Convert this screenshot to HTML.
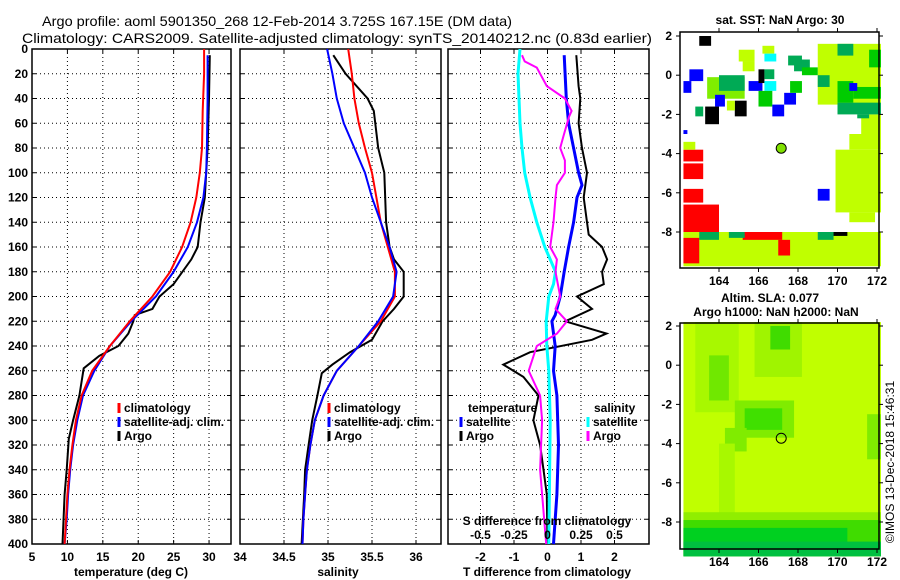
<!DOCTYPE html>
<html><head><meta charset="utf-8">
<style>
html,body{margin:0;padding:0;background:#fff;}
svg{display:block;font-family:"Liberation Sans",sans-serif;}
</style></head>
<body>
<svg id="chart" width="900" height="580" viewBox="0 0 900 580" xmlns="http://www.w3.org/2000/svg">
<text x="42" y="26" font-size="14" textLength="470" lengthAdjust="spacingAndGlyphs">Argo profile: aoml 5901350_268 12-Feb-2014 3.725S 167.15E (DM data)</text>
<text x="22" y="43" font-size="14" textLength="630" lengthAdjust="spacingAndGlyphs">Climatology: CARS2009. Satellite-adjusted climatology: synTS_20140212.nc (0.83d earlier)</text>
<g id="plots"></g>
<text transform="translate(894,462) rotate(-90)" text-anchor="middle" font-size="12">©IMOS 13-Dec-2018 15:46:31</text>
</svg>
<script>
// ---- data ----
const tempClimDepth=[0,20,50,80,100,120,140,160,180,200,220,240,260,280,300,320,340,360,380,400];
const tempClim=[29.3,29.3,29.1,29.0,28.7,28.2,27.4,26.2,24.5,22.0,18.8,16.0,13.5,12.0,11.2,10.7,10.3,10.0,9.8,9.6];
const tempSatDepth=[5,40,80,100,120,140,160,180,200,220,240,260,280,300,320,340,360,380,400];
const tempSat=[29.8,29.8,29.7,29.6,29.2,28.3,27.0,25.0,22.5,19.0,16.0,13.8,12.2,11.4,10.8,10.4,10.1,9.9,9.6];
const tempArgoDepth=[5,40,80,120,140,160,170,190,200,210,215,220,230,240,248,258,280,300,315,340,360,400];
const tempArgo=[30.1,30.0,29.8,29.4,28.8,28.4,27.5,25.0,23.0,22.0,19.5,19.3,18.6,17.2,14.5,12.3,11.7,10.8,10.2,9.9,9.6,9.3];

const salDepth=[0,20,40,60,80,100,120,140,160,180,200,220,240,260,280,300,320,340,360,380,400];
const salClim=[35.23,35.27,35.30,35.35,35.42,35.50,35.55,35.60,35.68,35.76,35.76,35.60,35.35,35.10,34.95,34.85,34.80,34.76,34.74,34.72,34.71];
const salSat=[34.99,35.05,35.10,35.18,35.30,35.42,35.50,35.60,35.70,35.78,35.74,35.57,35.35,35.10,34.95,34.85,34.80,34.76,34.74,34.72,34.71];
const salArgoDepth=[5,20,40,50,80,100,140,160,170,180,200,210,220,235,245,255,262,280,300,320,340,360,400];
const salArgo=[35.06,35.20,35.45,35.52,35.57,35.64,35.66,35.70,35.75,35.86,35.86,35.75,35.62,35.50,35.25,35.05,34.93,34.88,34.82,34.78,34.74,34.73,34.70];

const dTSatDepth=[5,40,60,80,100,110,120,140,160,180,200,215,220,240,260,280,320,360,400];
const dTSat=[0.5,0.56,0.63,0.78,0.93,1.03,0.88,0.78,0.63,0.5,0.38,0.23,0.13,0.23,0.18,0.28,0.33,0.28,0.18];
const dTArgoDepth=[5,30,40,60,80,100,120,140,150,160,170,180,190,200,210,220,230,235,245,255,265,280,300,320,340,360,400];
const dTArgo=[0.86,0.93,0.98,0.93,1.03,1.18,1.08,1.18,1.23,1.63,1.78,1.63,1.68,0.88,1.33,0.53,1.76,1.33,-0.52,-1.32,-0.72,-0.27,-0.42,-0.22,-0.12,-0.02,0];
const dSSatDepth=[0,20,60,80,100,120,140,160,170,180,190,200,220,240,260,300,400];
const dSSat=[-0.205,-0.22,-0.205,-0.19,-0.17,-0.13,-0.08,-0.02,0.02,0.06,0.045,0.01,-0.01,-0.005,0.01,0.02,0.01];
const dSArgoDepth=[5,10,15,30,40,50,55,70,80,90,100,110,120,140,160,170,180,200,210,220,230,240,260,280,300,340,400];
const dSArgo=[-0.19,-0.17,-0.08,-0.005,0.13,0.18,0.16,0.12,0.095,0.13,0.13,0.07,0.06,0.045,0.02,0.07,0.06,0.095,0.06,0.145,0.07,-0.08,-0.14,-0.055,-0.04,-0.055,-0.01];

const depthTicks=[0,20,40,60,80,100,120,140,160,180,200,220,240,260,280,300,320,340,360,380,400];
const tempTicks=[5,10,15,20,25,30];
const salTicks=[34,34.5,35,35.5,36];
const dTTicks=[-2,-1,0,1,2];
const dSTicks=[-0.5,-0.25,0,0.25,0.5];
const dSTickLabels=["-0.5","-0.25","0","0.25","0.5"];
const lonTicks=[164,166,168,170,172];
const latTicks=[2,0,-2,-4,-6,-8];
const argoLon=167.15, argoLat=-3.725;

// ---- helpers ----
const NS="http://www.w3.org/2000/svg";
const root=document.getElementById('plots');
function mk(tag,attrs,parent){const e=document.createElementNS(NS,tag);for(const k in attrs)e.setAttribute(k,attrs[k]);(parent||root).appendChild(e);return e;}
const TOP=49, BOT=544;
const yD=d=>TOP+(BOT-TOP)*d/400;

function panel(name,x0,x1,xmin,xmax){
  const g=mk('g',{});
  
  
  const sx=v=>x0+(v-xmin)/(xmax-xmin)*(x1-x0);
  return {g,sx,x0,x1};
}
function frame(p,xt){
  depthTicks.forEach(d=>{
    if(d>0&&d<400){const l=mk('line',{x1:p.x0,x2:p.x1,y1:yD(d),y2:yD(d),stroke:'#000','stroke-width':1,'stroke-dasharray':'1,3'},p.g);
    
    }
    mk('line',{x1:p.x0,x2:p.x0+4,y1:yD(d),y2:yD(d),stroke:'#000'},p.g);
    mk('line',{x1:p.x1,x2:p.x1-4,y1:yD(d),y2:yD(d),stroke:'#000'},p.g);
  });
  xt.forEach(v=>{const x=p.sx(v);if(x>p.x0+1&&x<p.x1-1){
    const l=mk('line',{x1:x,x2:x,y1:TOP,y2:BOT,stroke:'#000','stroke-dasharray':'1,3'},p.g);
    
    }
    if(x>=p.x0-1&&x<=p.x1+1){mk('line',{x1:x,x2:x,y1:BOT,y2:BOT-4,stroke:'#000'},p.g);mk('line',{x1:x,x2:x,y1:TOP,y2:TOP+4,stroke:'#000'},p.g);}
  });
  const r=mk('rect',{x:p.x0,y:TOP,width:p.x1-p.x0,height:BOT-TOP,fill:'none',stroke:'#000','stroke-width':1.5},p.g);
  
  
}
function line(p,name,xs,ds,color,w,xf){
  const pts=xs.map((v,i)=>((xf||p.sx)(v)).toFixed(1)+','+yD(ds[i]).toFixed(1)).join(' ');
  const l=mk('polyline',{points:pts,fill:'none',stroke:color,'stroke-width':w},p.g);
  
  
}
function txt(p,s,x,y,opts){const t=mk('text',Object.assign({x:x,y:y,'font-size':12,'font-weight':'bold'},opts||{}),p.g);t.textContent=s;return t;}
function legend(p,x,y,items){
  items.forEach((it,i)=>{
    const yy=y+i*14;
    mk('line',{x1:x,x2:x,y1:yy-9,y2:yy+1,stroke:it[1],'stroke-width':3},p.g);
    const t=txt(p,it[0],x+5,yy);
    
    
  });
}

// ---- panel 1: temperature ----
const p1=panel('temperature-panel',32,231,5,33.1);
frame(p1,tempTicks);
depthTicks.forEach(d=>{const t=txt(p1,String(d),28,yD(d)+4,{'text-anchor':'end'});
  
  });
tempTicks.forEach(v=>{const t=txt(p1,String(v),p1.sx(v),561,{'text-anchor':'middle'});
  
  });
line(p1,'temp-argo-line',tempArgo,tempArgoDepth,'#000',2);
line(p1,'temp-satellite-line',tempSat,tempSatDepth,'#0000ff',2);
line(p1,'temp-climatology-line',tempClim,tempClimDepth,'#ff0000',2);
legend(p1,119,412,[['climatology','#ff0000'],['satellite-adj. clim.','#0000ff'],['Argo','#000']]);
{const t=txt(p1,'temperature (deg C)',131,576,{'text-anchor':'middle'});}

// ---- panel 2: salinity ----
const p2=panel('salinity-panel',240,441,34,36.284);
frame(p2,salTicks);
salTicks.forEach(v=>{const t=txt(p2,String(v),p2.sx(v),561,{'text-anchor':'middle'});
  
  });
line(p2,'sal-argo-line',salArgo,salArgoDepth,'#000',2);
line(p2,'sal-climatology-line',salClim,salDepth,'#ff0000',2);
line(p2,'sal-satellite-line',salSat,salDepth,'#0000ff',2);
legend(p2,329,412,[['climatology','#ff0000'],['satellite-adj. clim.','#0000ff'],['Argo','#000']]);
{const t=txt(p2,'salinity',338,576,{'text-anchor':'middle'});}

// ---- panel 3: differences ----
const p3=panel('difference-panel',448,649,-2.97,3.03);
frame(p3,dTTicks);
const sS=v=>p3.sx(v*4);
line(p3,'dT-argo-line',dTArgo,dTArgoDepth,'#000',2);
line(p3,'dT-satellite-line',dTSat,dTSatDepth,'#0000ff',3);
line(p3,'dS-satellite-line',dSSat,dSSatDepth,'#00ffff',3,sS);
line(p3,'dS-argo-line',dSArgo,dSArgoDepth,'#ff00ff',2,sS);
dTTicks.forEach(v=>{const t=txt(p3,String(v),p3.sx(v),561,{'text-anchor':'middle'});
  
  });
dSTicks.forEach((v,i)=>{const t=txt(p3,dSTickLabels[i],sS(v),539,{'text-anchor':'middle'});
  
  });
{const t=txt(p3,'S difference from climatology',547,525,{'text-anchor':'middle'});}
{const t=txt(p3,'T difference from climatology',547,576,{'text-anchor':'middle'});}
txt(p3,'temperature',468,412);
legend(p3,461,426,[['satellite','#0000ff'],['Argo','#000']]);
txt(p3,'salinity',594,412);
legend(p3,588,426,[['satellite','#00ffff'],['Argo','#ff00ff']]);

// ---- maps ----
function mapFrame(name,top,bot,lat2y,latm8y){
  const g=mk('g',{});
  
  
  const L=680,R=879;
  const X=lon=>719+(lon-164)*19.75;
  const Y=lat=>lat2y+(2-lat)*(latm8y-lat2y)/10;
  return {g,X,Y,L,R,top,bot};
}
function mapAxes(m){
  mk('rect',{x:m.L,y:m.top,width:m.R-m.L,height:m.bot-m.top,fill:'none',stroke:'#000','stroke-width':1.5},m.g);
  lonTicks.forEach(v=>{const x=m.X(v);mk('line',{x1:x,x2:x,y1:m.bot,y2:m.bot+4,stroke:'#000'},m.g);mk('line',{x1:x,x2:x,y1:m.top,y2:m.top-4,stroke:'#000'},m.g);
    const t=mk('text',{x:x,y:m.bot+17,'text-anchor':'middle','font-size':12,'font-weight':'bold'},m.g);t.textContent=v;
    
    });
  latTicks.forEach(v=>{const y=m.Y(v);mk('line',{x1:m.L,x2:m.L-4,y1:y,y2:y,stroke:'#000'},m.g);mk('line',{x1:m.R,x2:m.R+4,y1:y,y2:y,stroke:'#000'},m.g);
    const t=mk('text',{x:m.L-8,y:y+4,'text-anchor':'end','font-size':12,'font-weight':'bold'},m.g);t.textContent=v;
    
    });
  const c=mk('circle',{cx:m.X(argoLon),cy:m.Y(argoLat),r:5,fill:m.dotFill||'none',stroke:'#000','stroke-width':1},m.g);
  
  
}
function box(m,lo0,la0,lo1,la1,col){
  mk('rect',{x:m.X(lo0),y:m.Y(la0),width:m.X(lo1)-m.X(lo0),height:m.Y(la1)-m.Y(la0),fill:col},m.g);
}
// SST map
const m1=mapFrame('sst-map',32,268,36,232);
const LG='#c0ff00',G1='#00cc00',G2='#00aa55',G3='#80ee00';
const sstBlocks=[
 [162.2,-8,172.2,-9.75,LG],[162.2,-8.3,163,-9.6,'#ff0000'],[165.2,-8,167.2,-8.4,'#ff0000'],[167,-8.4,167.6,-9.2,'#ff0000'],
 [163,-8,164,-8.4,G2],[164.5,-8,165.3,-8.3,G2],[169,-8,169.8,-8.4,G2],[169.8,-8,170.5,-8.2,'#000'],
 [162.2,-3.8,163.2,-4.4,'#ff0000'],[162.2,-4.5,163.2,-5.3,'#ff0000'],[162.2,-5.8,163.2,-6.5,'#ff0000'],[162.2,-6.6,164,-8,'#ff0000'],
 [162.2,-3.4,162.8,-3.8,LG],[162.2,-2.8,162.4,-3.0,'#0000ff'],
 [171.2,-2,172.2,-3,LG],[170.6,-3,172.2,-3.8,LG],[169.9,-3.8,172.2,-7,LG],[170.6,-7,171.9,-7.5,LG],
 [169,-5.8,169.6,-6.4,'#0000ff'],
 [169,1.6,172.2,-1.5,LG],[170,1.6,170.8,1.0,G2],[171.6,1.3,172.2,0.4,G1],[169,0,169.6,-0.6,G2],[170.0,-0.3,170.8,-1.4,G1],[170.8,-0.6,172.2,-1.2,G1],
 [170,-1.4,172.2,-2.0,G2],[171,-2,171.6,-2.2,G2],[167.8,0.8,168.6,0.2,G2],[168.2,0.4,169,0,G1],[170.6,-0.4,171,-0.8,'#0000ff'],
 [165,1.3,165.8,0.7,LG],[165.2,0.7,165.8,0.2,LG],[166.2,1.5,166.8,1.1,LG],[166.3,1.1,166.9,0.7,'#00ffff'],[167.5,1.0,168.2,0.5,G2],
 [163,2,163.6,1.5,'#000'],[162.5,0.3,163.2,-0.3,'#0000ff'],[162.2,-0.3,162.6,-0.9,'#0000ff'],
 [163.4,-0.1,165.3,-1.2,G3],[164.0,0.0,165.3,-0.8,G2],[163.8,-1,164.3,-1.6,'#0000ff'],[163.3,-1.6,164,-2.5,'#000'],[162.8,-1.6,163.2,-2.1,G2],
 [165.5,-0.3,166.2,-0.8,'#0000ff'],[166,0.3,166.3,-0.4,'#000'],[166.3,-0.3,166.9,-0.8,'#00ffff'],[166.3,0.3,166.8,-0.2,G2],
 [166,-0.8,166.7,-1.6,G1],[166.7,-1.5,167.3,-2.1,'#0000ff'],[167.3,-0.9,167.9,-1.5,'#0000ff'],[167.6,-0.3,168.2,-0.9,G1],
 [164.8,-1.3,165.4,-2.1,'#000'],[164.4,-1.3,164.8,-1.8,LG]
];
sstBlocks.forEach(b=>box(m1,b[0],b[1],b[2],b[3],b[4]));
m1.dotFill='#80e000';
mapAxes(m1);
{const t=mk('text',{x:780,y:24,'text-anchor':'middle','font-size':12,'font-weight':'bold'},m1.g);t.textContent='sat. SST: NaN Argo: 30';}
// SLA map
const m2=mapFrame('sla-map',323,549,326,522);
box(m2,162.2,2.2,172.2,-9.75,LG);
const slaBlocks=[
 [162.8,2.2,165,-2.4,'#a8f800'],[163.5,0.5,164.5,-1.8,'#70e800'],[165.8,2.2,168.2,-0.6,'#a0f400'],[166.6,2.0,167.6,0.8,'#40dc00'],
 [164.8,-1.8,167.8,-3.7,'#80ec00'],[165.3,-2.2,167.2,-3.3,'#40e000'],[164.3,-3.2,165.4,-4.4,'#80ec00'],
 [171.5,-2.5,172.2,-4.8,'#80ec00'],[164.0,-4,164.8,-8,'#a8f800'],
 [162.2,-7.5,172.2,-9.75,'#90ee00'],[162.2,-7.9,172.2,-9.75,'#40dc00'],[162.2,-8.3,170.5,-9.75,'#00d020'],[162.2,-9.0,172.2,-9.75,'#00c040']
];
slaBlocks.forEach(b=>box(m2,b[0],b[1],b[2],b[3],b[4]));
mapAxes(m2);
{const t=mk('text',{x:770,y:302,'text-anchor':'middle','font-size':12,'font-weight':'bold'},m2.g);t.textContent='Altim. SLA: 0.077';}
{const t=mk('text',{x:776,y:316,'text-anchor':'middle','font-size':12,'font-weight':'bold'},m2.g);t.textContent='Argo h1000: NaN h2000: NaN';}
</script>
</body></html>
